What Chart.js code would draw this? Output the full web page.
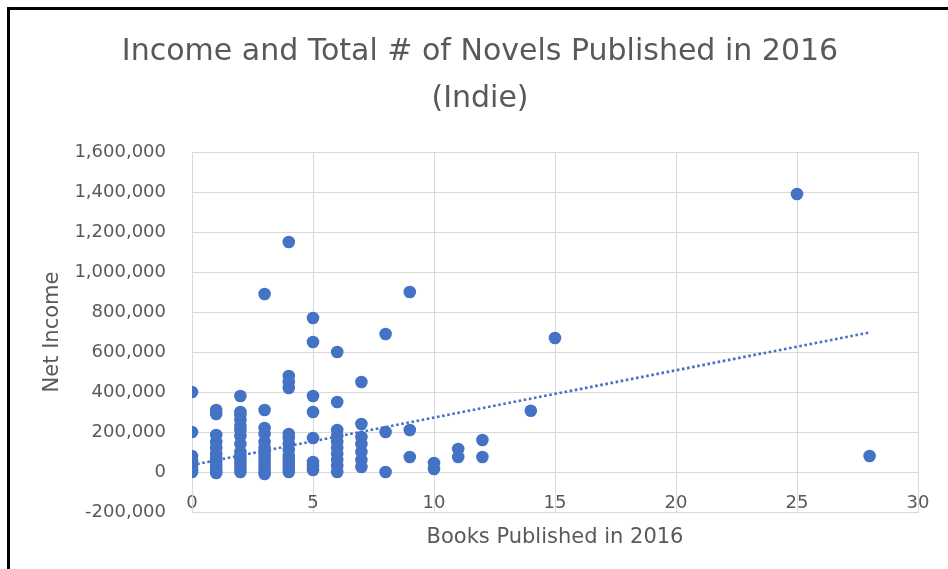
<!DOCTYPE html>
<html>
<head>
<meta charset="utf-8">
<script src="https://cdn.jsdelivr.net/npm/chart.js@4/dist/chart.umd.min.js"></script>
<style>
  html, body { margin: 0; padding: 0; background: #ffffff; }
  #wrap { position: relative; width: 948px; height: 569px; overflow: hidden; }
  #frame {
    position: absolute; left: 7px; top: 7px; width: 2000px; height: 2000px;
    border-left: 3px solid #000; border-top: 3px solid #000; pointer-events: none;
  }
  canvas { position: absolute; left: 0; top: 0; }
</style>
</head>
<body>
<div id="wrap">
  <canvas id="chart" width="948" height="569"></canvas>
  <div id="frame"></div>
</div>
<script>
// Books published in 2016 (x) and net income (y) for each indie author, grouped by book count
const booksPublished = [
  0, 0, 0, 0, 0, 0, 0,
  1, 1, 1, 1, 1, 1, 1, 1, 1, 1, 1,
  2, 2, 2, 2, 2, 2, 2, 2, 2, 2, 2, 2, 2, 2,
  3, 3, 3, 3, 3, 3, 3, 3, 3, 3, 3, 3, 3,
  4, 4, 4, 4, 4, 4, 4, 4, 4, 4, 4, 4, 4,
  5, 5, 5, 5, 5, 5, 5, 5,
  6, 6, 6, 6, 6, 6, 6, 6, 6, 6,
  7, 7, 7, 7, 7, 7, 7,
  8, 8, 8,
  9, 9, 9,
  10, 10,
  11, 11,
  12, 12,
  14,
  15,
  25,
  28
];
const netIncome = [
  400000, 200000, 80000, 55000, 30000, 10000, 0,
  310000, 290000, 185000, 150000, 120000, 90000, 70000, 50000, 30000, 10000, -5000,
  380000, 300000, 285000, 260000, 230000, 210000, 180000, 140000, 100000, 80000, 60000, 40000, 20000, 0,
  890000, 310000, 220000, 190000, 150000, 120000, 100000, 80000, 60000, 40000, 20000, 0, -10000,
  1150000, 480000, 450000, 420000, 190000, 170000, 140000, 110000, 80000, 60000, 40000, 20000, 0,
  770000, 650000, 380000, 300000, 170000, 50000, 30000, 10000,
  600000, 350000, 210000, 180000, 150000, 120000, 90000, 60000, 30000, 0,
  450000, 240000, 175000, 140000, 100000, 60000, 25000,
  690000, 200000, 0,
  900000, 210000, 75000,
  45000, 15000,
  115000, 75000,
  160000, 75000,
  306000,
  670000,
  1390000,
  80000
];

// Linear trendline end points
const trendBooks = [0, 28];
const trendIncome = [35000, 698000];

// Axis ranges and tick steps
const xRange = [0, 30];
const xStep = 5;
const yRange = [-200000, 1600000];
const yStep = 200000;

const titleLines = ['Income and Total # of Novels Published in 2016', '(Indie)'];
const xTitle = 'Books Published in 2016';
const yTitle = 'Net Income';

const FONT = 'DejaVu Sans';
const TEXT = '#595959';
const GRID = '#d9d9d9';
const BLUE = '#4472c4';

const points = booksPublished.map((b, i) => ({ x: b, y: netIncome[i] }));
const trend = trendBooks.map((b, i) => ({ x: b, y: trendIncome[i] }));

new Chart(document.getElementById('chart'), {
  type: 'scatter',
  data: {
    datasets: [
      {
        label: 'Net Income',
        data: points,
        xAxisID: 'x',
        yAxisID: 'y',
        backgroundColor: BLUE,
        borderColor: BLUE,
        borderWidth: 0,
        pointRadius: 6.3,
        pointHoverRadius: 6.3,
        order: 2
      },
      {
        type: 'line',
        label: 'Linear (Net Income)',
        data: trend,
        xAxisID: 'x',
        yAxisID: 'y',
        borderColor: BLUE,
        borderWidth: 2.6,
        borderDash: [2.6, 2.6],
        borderCapStyle: 'butt',
        pointRadius: 0,
        fill: false,
        order: 1
      }
    ]
  },
  options: {
    responsive: false,
    devicePixelRatio: 1,
    animation: false,
    events: [],
    // the left/right padding keeps the chart title centred on the page
    layout: { padding: { top: 0, right: 30, bottom: 0, left: 42 } },
    plugins: {
      legend: { display: false },
      tooltip: { enabled: false },
      title: {
        display: true,
        text: titleLines,
        color: TEXT,
        font: { family: FONT, size: 30, weight: 'normal', lineHeight: 47 / 30 },
        padding: { top: 28.5, bottom: 29.5 }
      }
    },
    scales: {
      x: {
        type: 'linear',
        position: 'bottom',
        min: xRange[0],
        max: xRange[1],
        ticks: { display: false, stepSize: xStep },
        grid: { color: GRID, lineWidth: 1, drawTicks: false },
        border: { color: GRID },
        title: {
          display: true,
          text: xTitle,
          color: TEXT,
          font: { family: FONT, size: 21, weight: 'normal' },
          padding: { top: 0, bottom: 19 }
        },
        afterFit(scale) { scale.height = 57; }
      },
      xLabels: {
        type: 'linear',
        axis: 'x',
        position: { y: 0 },
        min: xRange[0],
        max: xRange[1],
        ticks: {
          stepSize: xStep,
          maxRotation: 0,
          color: TEXT,
          font: { family: FONT, size: 18 }
        },
        grid: { display: false, drawTicks: true, tickLength: 18 },
        border: { display: false }
      },
      y: {
        type: 'linear',
        position: 'left',
        min: yRange[0],
        max: yRange[1],
        ticks: {
          stepSize: yStep,
          padding: 26,
          color: TEXT,
          font: { family: FONT, size: 18 },
          callback: (v) => v.toLocaleString('en-US')
        },
        grid: { color: GRID, lineWidth: 1, drawTicks: false },
        border: { color: GRID },
        title: {
          display: true,
          text: yTitle,
          color: TEXT,
          font: { family: FONT, size: 21, weight: 'normal', lineHeight: 1 },
          padding: { top: 0, bottom: 0 }
        },
        afterFit(scale) { scale.width = 150; }
      }
    }
  }
});
</script>
</body>
</html>
